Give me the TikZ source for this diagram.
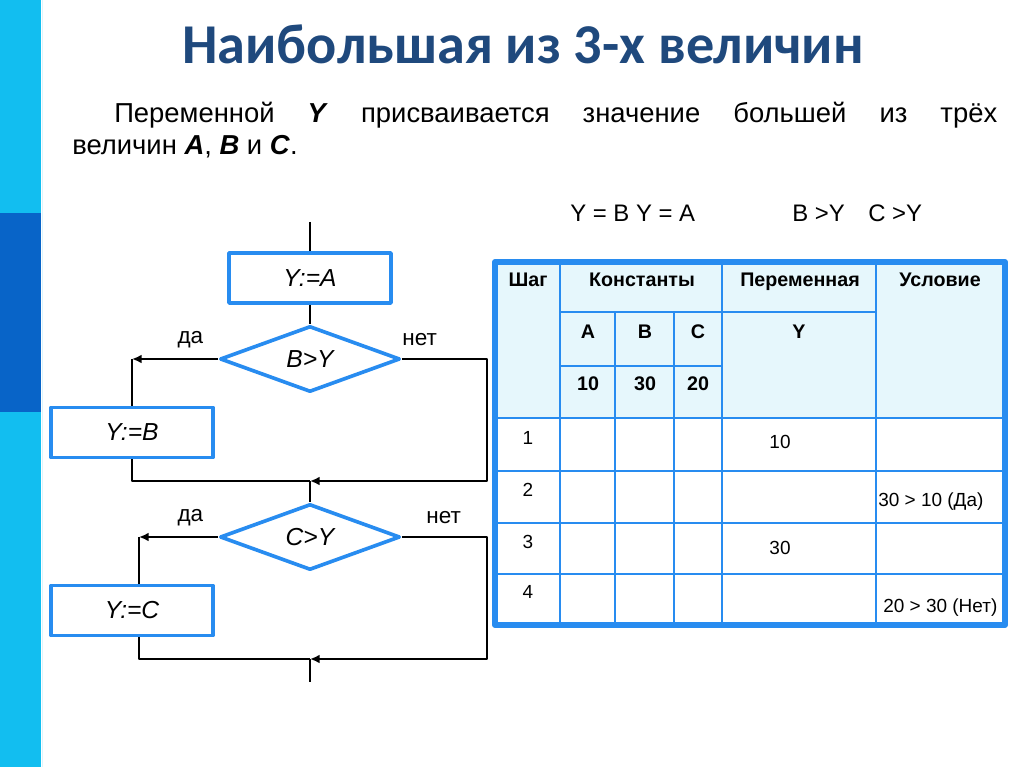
\documentclass[tikz,border=0pt]{standalone}
\usepackage{fontspec}
\setmainfont{Liberation Sans}
\newfontfamily\titlefont{Carlito}
\usepackage{xcolor}
\usepackage{tikz}
\usetikzlibrary{arrows.meta,shapes.geometric}

\definecolor{barcyan}{RGB}{18,190,240}
\definecolor{bardark}{RGB}{8,100,200}
\definecolor{titleblue}{RGB}{31,73,125}
\definecolor{flowblue}{RGB}{40,140,240}
\definecolor{headcyan}{RGB}{230,247,252}

\begin{document}
\begin{tikzpicture}[x=1cm,y=1cm,line cap=round,line join=round,
  procbox/.style={draw=flowblue,line width=2.6pt,minimum width=4.05cm,minimum height=1.25cm,
    inner sep=0pt,font=\fontsize{17.5}{20}\selectfont\itshape},
  testbox/.style={diamond,draw=flowblue,line width=2.6pt,minimum width=4.5cm,minimum height=1.65cm,
    inner sep=0pt,font=\fontsize{17.5}{20}\selectfont\itshape},
  wire/.style={line width=1.8pt,line cap=butt},
  flowarr/.style={wire,-{Latex[length=2.4mm,width=2.2mm]}},
  yesno/.style={font=\fontsize{16}{18}\selectfont},
  grid/.style={draw=flowblue,line width=2.1pt,line cap=butt},
  headtxt/.style={font=\fontsize{14}{16}\selectfont\bfseries,anchor=base,inner sep=0pt},
  celltxt/.style={font=\fontsize{13.5}{16}\selectfont,anchor=base,inner sep=0pt},
  toptxt/.style={font=\fontsize{17}{20}\selectfont,anchor=base west,inner sep=0pt}]
  \useasboundingbox (0,0) rectangle (25.6,-19.175);
  % Slide bar.
  \fill[white] (0,0) rectangle (25.6,-19.175);
  \fill[barcyan] (0,0) rectangle (1.025,-19.175);
  \fill[bardark] (0,-5.325) rectangle (1.025,-10.3);
  \draw[white!85!barcyan,line width=1.2pt] (1.06,0)--(1.06,-19.175);

  % Heading and task.
  \node[anchor=base,inner sep=0pt,text=titleblue,font=\titlefont\fontsize{40}{44}\selectfont\bfseries]
    (title) at (13.075,-1.6) {Наибольшая из 3-х величин};
  \node[anchor=base west,text width=23.125cm,align=justify,inner sep=0pt,
    font=\fontsize{19.5}{22.8}\selectfont] (task) at (1.8,-3.07)
    {\hspace*{1.05cm}Переменной \textbf{\textit{Y}} присваивается значение большей из трёх\linebreak
     величин \textbf{\textit{A}}, \textbf{\textit{B}} и \textbf{\textit{C}}.};
  \node[toptxt] (trace1) at (14.25,-5.55) {Y = B Y = A};
  \node[toptxt] (trace2) at (19.8,-5.55) {B >Y};
  \node[toptxt] (trace3) at (21.7,-5.55) {C >Y};

  % Flowchart.
  \coordinate (in) at (7.75,-5.55);
  \node[procbox] (ya) at (7.75,-6.95) {Y:=A};
  \node[testbox] (bgy) at (7.75,-8.975) {B>Y};
  \node[procbox] (yb) at (3.3,-10.81) {Y:=B};
  \coordinate (j1) at (7.75,-12.025);
  \coordinate (r1) at (12.175,-12.025);
  \node[testbox] (cgy) at (7.75,-13.425) {C>Y};
  \node[procbox] (yc) at (3.3,-15.2625) {Y:=C};
  \coordinate (cyes) at (3.475,-13.425);
  \coordinate (j2) at (7.75,-16.475);
  \coordinate (r2) at (12.175,-16.475);
  \coordinate (out) at (7.75,-17.05);

  \draw[wire] (in) -- (ya.north);
  \draw[wire] (ya.south) -- (bgy.north);
  \draw[flowarr] (bgy.west) -- (bgy.west -| yb.north);
  \draw[wire] (bgy.west -| yb.north) -- (yb.north);
  \draw[wire] (yb.south) |- (j1);
  \draw[flowarr] (bgy.east) -| (r1) -- (j1);
  \draw[wire] (j1) -- (cgy.north);
  \draw[flowarr] (cgy.west) -- (cyes);
  \draw[wire] (cyes) -- (cyes |- yc.north);
  \draw[wire] (cyes |- yc.south) |- (j2);
  \draw[flowarr] (cgy.east) -| (r2) -- (j2);
  \draw[wire] (j2) -- (out);

  \node[yesno] (yes1) at (4.76,-8.5) {да};
  \node[yesno] (no1) at (10.49,-8.5) {нет};
  \node[yesno] (yes2) at (4.76,-12.95) {да};
  \node[yesno] (no2) at (11.09,-12.95) {нет};

  % Trace table.
  \fill[headcyan] (12.375,-6.55) rectangle (25.125,-10.45);
  \foreach \y in {-10.45,-11.775,-13.075,-14.35}
    \draw[grid] (12.375,\y) -- (25.125,\y);
  \draw[grid] (14.0,-7.8) -- (21.9,-7.8);
  \draw[grid] (14.0,-9.15) -- (18.05,-9.15);
  \foreach \x in {14.0,18.05,21.9}
    \draw[grid] (\x,-6.55) -- (\x,-15.625);
  \foreach \x in {15.375,16.85}
    \draw[grid] (\x,-7.8) -- (\x,-15.625);
  \draw[draw=flowblue,line width=4.2pt] (12.375,-6.55) rectangle (25.125,-15.625);

  \node[headtxt] (hstep) at (13.2,-7.17) {Шаг};
  \node[headtxt] (hconst) at (16.05,-7.17) {Константы};
  \node[headtxt] (hvar) at (20.0,-7.17) {Переменная};
  \node[headtxt] (hcond) at (23.5,-7.17) {Условие};
  \foreach \x/\lab/\val in {14.7/A/10,16.125/B/30,17.45/C/20}{
    \node[headtxt] at (\x,-8.47) {\lab};
    \node[headtxt] at (\x,-9.77) {\val};
  }
  \node[headtxt] (hy) at (19.975,-8.47) {Y};
  \foreach \n/\y in {1/-11.1,2/-12.42,3/-13.7,4/-14.97}
    \node[celltxt] at (13.2,\y) {\n};
  \node[celltxt] (y1) at (19.5,-11.22) {10};
  \node[celltxt] (y3) at (19.5,-13.85) {30};
  \node[celltxt,anchor=base west] (c2) at (21.95,-12.67) {30 > 10 (Да)};
  \node[celltxt,anchor=base west] (c4) at (22.075,-15.3) {20 > 30 (Нет)};
\end{tikzpicture}
\end{document}
